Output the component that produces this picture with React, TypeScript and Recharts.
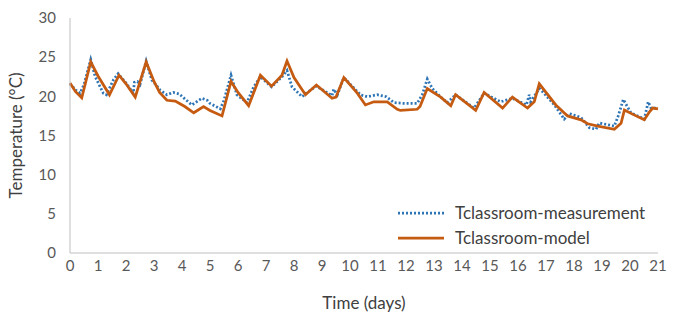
import { Label, Line, LineChart, XAxis, YAxis } from "recharts";

const measTime = [
  0, 0.2, 0.36, 0.5, 0.74, 0.9, 1.19, 1.3, 1.55, 1.72, 2.0, 2.26, 2.3, 2.41, 2.5, 2.72, 2.92, 3.22, 3.46, 3.69,
  3.9, 4.35, 4.71, 4.9, 5.0, 5.37, 5.5, 5.75, 5.96, 6.32, 6.56, 6.8, 7.2, 7.57, 7.75, 7.93, 8.29, 8.47, 8.8, 9.36,
  9.42, 9.55, 9.78, 10.37, 10.62, 10.97, 11.3, 11.57, 11.92, 12.4, 12.58, 12.76, 12.94, 13.24, 13.48, 13.77, 14.43,
  14.79, 15.38, 15.8, 16.3, 16.4, 16.45, 16.76, 16.93, 17.3, 17.65, 17.83, 18.25, 18.55, 18.79, 18.9, 19.44, 19.58,
  19.76, 20.03, 20.51, 20.65, 20.75, 21.0,
];
const measTemp = [
  21.6, 20.8, 20.4, 21.5, 24.7, 22.5, 20.4, 20.2, 22.1, 22.9, 21.7, 20.4, 21.8, 21.9, 21.5, 24.5, 22.1, 20.8, 20.2, 20.5,
  20.3, 18.9, 19.75, 19.5, 19.1, 18.4, 19.5, 22.7, 20.2, 19.2, 21.2, 22.5, 21.2, 22.5, 23.3, 21.2, 19.95, 20.5, 21.3, 20.1,
  20.9, 20.2, 22.4, 20.2, 19.95, 20.2, 19.95, 19.2, 19.1, 19.1, 20.2, 22.2, 21.0, 19.9, 19.2, 20.2, 18.5,
  20.4, 19.3, 19.75, 18.9, 20.2, 19.3, 21.0, 20.4, 18.9, 17.1, 17.8, 17.3, 16.0, 15.8, 16.6, 16.2, 17.5,
  19.6, 17.9, 17.1, 19.3, 18.5, 18.5,
];

const modelTime = [
  0, 0.2, 0.42, 0.74, 1.0, 1.41, 1.75, 2.0, 2.33, 2.72, 3.0, 3.2, 3.46, 3.76, 4.1, 4.42, 4.77, 5.0, 5.43, 5.75, 6.0,
  6.38, 6.8, 7.2, 7.57, 7.75, 8.0, 8.41, 8.8, 9.36, 9.5, 9.78, 10.26, 10.55, 10.85, 11.33, 11.69, 11.8, 12.4, 12.5,
  12.76, 13.24, 13.6, 13.77, 14.49, 14.79, 15.45, 15.8, 16.34, 16.58, 16.76, 17.35, 17.77, 18.25, 18.49, 18.85,
  19.44, 19.68, 19.8, 20.16, 20.51, 20.69, 20.81, 21.0,
];
const modelTemp = [
  21.7, 20.6, 19.8, 24.4, 22.6, 20.2, 22.7, 21.6, 19.9, 24.4, 21.9, 20.5, 19.5, 19.4, 18.7, 17.9, 18.7, 18.2, 17.5, 21.9, 20.5,
  18.8, 22.7, 21.3, 22.7, 24.5, 22.4, 20.2, 21.45, 19.75, 19.9, 22.4, 20.4, 18.9, 19.3, 19.3, 18.35, 18.2, 18.35, 18.7,
  21.0, 19.9, 18.8, 20.2, 18.2, 20.5, 18.5, 19.9, 18.5, 19.3, 21.6, 18.9, 17.5, 17.0, 16.5, 16.2,
  15.8, 16.55, 18.25, 17.6, 17.0, 18.0, 18.5, 18.4,
];

const xTicks = Array.from({ length: 22 }, (_, i) => i);
const yTicks = [0, 5, 10, 15, 20, 25, 30];

const measurement = measTime.map((t, i) => ({ t, v: measTemp[i] }));
const model = modelTime.map((t, i) => ({ t, v: modelTemp[i] }));

const font = "Lato, 'Open Sans', sans-serif";
const textColor = "#595959";
const blue = "#2E75B6";
const orange = "#C55A11";

// legend drawn as an overlay so it doesn't eat into the plot area
function ChartLegend() {
  const row = { display: "flex", alignItems: "center", height: 25 } as const;
  return (
    <div style={{ position: "absolute", left: 396, top: 200, fontFamily: font, fontSize: 17, color: "#404040" }}>
      <div style={row}>
        <svg width={59} height={10}>
          <line x1={2} y1={5} x2={48} y2={5} stroke={blue} strokeWidth={2.75} strokeDasharray="2 2" />
        </svg>
        <span>Tclassroom-measurement</span>
      </div>
      <div style={row}>
        <svg width={59} height={10}>
          <line x1={2} y1={5} x2={48} y2={5} stroke={orange} strokeWidth={2.75} />
        </svg>
        <span>Tclassroom-model</span>
      </div>
    </div>
  );
}

export default function App() {
  return (
    <div style={{ position: "absolute", left: 0, top: 0, width: 684, height: 315, background: "#fff" }}>
      <LineChart width={684} height={315} margin={{ top: 18, right: 26, bottom: 0, left: 0 }}>
        <XAxis
          dataKey="t"
          type="number"
          domain={[0, 21]}
          ticks={xTicks}
          interval={0}
          stroke="#bfbfbf"
          tickLine={false}
          tickSize={0}
          tickMargin={7}
          height={62}
          tick={{ fill: textColor, fontSize: 15, fontFamily: font }}
          allowDuplicatedCategory={false}
        >
          <Label value="Time (days)" position="insideBottom" offset={6} fill="#404040" fontSize={17} fontFamily={font} />
        </XAxis>
        <YAxis
          type="number"
          domain={[0, 30]}
          ticks={yTicks}
          stroke="#bfbfbf"
          tickLine={false}
          tickSize={0}
          tickMargin={14}
          width={70}
          tick={{ fill: textColor, fontSize: 15, fontFamily: font }}
        >
          <Label value="Temperature (°C)" angle={-90} position="insideLeft" offset={16} style={{ textAnchor: "middle" }} fill="#404040" fontSize={17} fontFamily={font} />
        </YAxis>
        <Line data={measurement} dataKey="v" type="linear" stroke={blue} strokeWidth={2.75} strokeDasharray="2 2" dot={false} isAnimationActive={false} />
        <Line data={model} dataKey="v" type="linear" stroke={orange} strokeWidth={2.75} dot={false} isAnimationActive={false} />
      </LineChart>
      <ChartLegend />
    </div>
  );
}
